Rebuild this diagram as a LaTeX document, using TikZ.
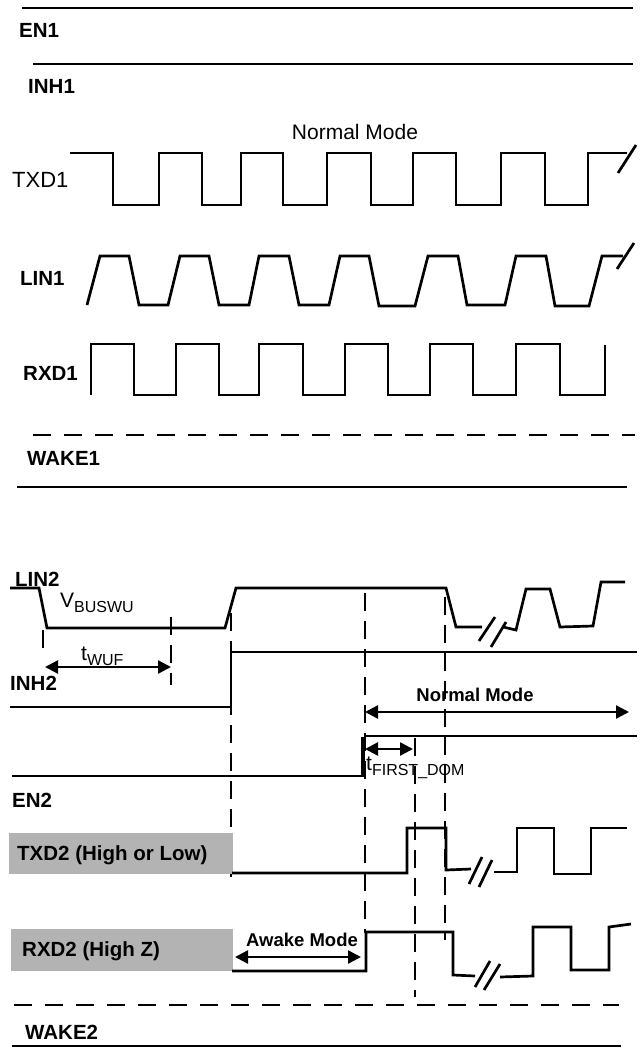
\documentclass[tikz,border=0pt]{standalone}
\usepackage{fontspec}
\setmainfont{Liberation Sans}
\usetikzlibrary{arrows.meta}
\definecolor{boxgray}{RGB}{179,179,179}
\newcommand{\subsig}[2]{#1\raisebox{-5pt}{\fontsize{16}{18}\selectfont #2}}
\tikzset{
  sig/.style={line width=2.7pt},
  vmark/.style={line width=2pt, dash pattern=on 18pt off 10pt},
  hdash/.style={line width=2.7pt, dash pattern=on 18pt off 13pt},
  dim/.style={line width=2.4pt, {Triangle[length=13pt,width=13pt]}-{Triangle[length=13pt,width=13pt]}},
  lbl/.style={anchor=west, inner sep=0pt, font=\fontsize{20.5}{24}\selectfont\bfseries},
  txt/.style={inner sep=0pt, font=\fontsize{21}{25}\selectfont},
}
\begin{document}
\begin{tikzpicture}[x=1pt,y=-1pt]
\useasboundingbox (0,0) rectangle (642,1049);

% first transceiver
\draw[sig] (22,8) -- (633,8);
\node[lbl] (en1) at (19,30) {EN1};
\draw[sig] (33,64) -- (633,64);
\node[lbl] (inh1) at (28,86) {INH1};
\node[txt] (nm1) at (355,132) {Normal Mode};
\node[txt, anchor=west, font=\fontsize{22}{26}\selectfont] (txd1) at (12,180) {TXD1};
\draw[sig] (70,153) -| (113,205) -| (159,153) -| (202,205) -| (241,153) -| (283,205) -| (327,153)
  -| (371,205) -| (413,153) -| (456,205) -| (501,153) -| (545,205) -| (588,153) -- (627,153);
\draw[sig] (618,173) -- (636,145);
\node[lbl] (lin1) at (20,278) {LIN1};
\draw[sig] (87,305) -- (100,256) -- (129,256) -- (139,305) -- (168,305) -- (180,256) -- (209,256)
  -- (219,305) -- (249,305) -- (259,256) -- (289,256) -- (299,305) -- (329,305) -- (340,256)
  -- (369,256) -- (379,306) -- (415,306) -- (428,256) -- (458,256) -- (467,305) -- (505,305)
  -- (516,256) -- (546,256) -- (555,306) -- (589,306) -- (602,256) -- (623,256);
\draw[sig] (617,269) -- (634,243);
\node[lbl] (rxd1) at (23,373) {RXD1};
\draw[sig] (91,395) |- (134,344) |- (176,395) |- (219,344) |- (259,395) |- (303,344) |- (345,395)
  |- (388,344) |- (430,395) |- (473,344) |- (516,395) |- (560,344) |- (605,395) -- (605,345);
\draw[hdash] (33,435) -- (635,435);
\node[lbl] (wake1) at (27,458) {WAKE1};
\draw[sig] (17,487) -- (627,487);

% second transceiver, wake up
\foreach \x/\a/\b in {43/630/648, 171/617/685, 231/613/877, 365/593/933, 445/597/940, 415/738/997}
  \draw[vmark] (\x,\a) -- (\x,\b);
\node[lbl] (lin2) at (15,579) {LIN2};
\draw[sig] (10,588) -- (39,588) -- (47,628) -- (225,628) -- (236,588) -- (446,588) -- (456,627) -- (482,627);
\draw[sig] (479,641) -- (495,617);
\draw[sig] (491,647) -- (506,622);
\draw[sig] (503,627) -- (516,630) -- (526,589) -- (550,589) -- (560,627) -- (593,626) -- (601,582) -- (625,582);
\node[txt, anchor=base west] (vbus) at (60,607) {\subsig{V}{BUSWU}};
\node[txt, anchor=base west] (twuf) at (81,660) {\subsig{t}{WUF}};
\coordinate (wuf-a) at (45,667);
\coordinate (wuf-b) at (171,667);
\draw[dim] (wuf-a) -- (wuf-b);
\node[lbl] (inh2) at (10,683) {INH2};
\draw[sig] (10,707) -| (231,652) -- (637,652);
\node[lbl, anchor=center, font=\fontsize{18.5}{22}\selectfont\bfseries] (nm2) at (475,695) {Normal Mode};
\coordinate (nm-a) at (365,712);
\coordinate (nm-b) at (629,712);
\draw[dim] (nm-a) -- (nm-b);
\draw[sig] (12,776) -- (364,776);
\draw[line width=3.5pt] (363,737) -- (363,777);
\draw[sig] (364,736) -- (637,736);
\coordinate (fd-a) at (365,749);
\coordinate (fd-b) at (413,749);
\draw[dim] (fd-a) -- (fd-b);
\node[txt, anchor=base west] (tfd) at (366,770) {\subsig{t}{FIRST\_DOM}};
\node[lbl] (en2) at (12,800) {EN2};

\fill[boxgray] (9,833) rectangle (233,874);
\node[lbl] (txd2) at (17,855) {TXD2 (High or Low)};
\draw[sig] (232,873) -| (407,828) -| (446,870) -- (471,869);
\draw[sig] (469,884) -- (482,857);
\draw[sig] (479,887) -- (492,860);
\draw[sig] (494,872) -| (517,828) -| (554,874) -| (591,828) -- (627,828);

\fill[boxgray] (11,929) rectangle (233,971);
\node[lbl] (rxd2) at (22,951) {RXD2 (High Z)};
\node[lbl, anchor=center, font=\fontsize{18.5}{22}\selectfont\bfseries] (awake) at (302,940) {Awake Mode};
\coordinate (aw-a) at (235,957);
\coordinate (aw-b) at (361,957);
\draw[dim] (aw-a) -- (aw-b);
\draw[sig] (232,971) -| (366,932) -| (453,975) -- (475,976);
\draw[sig] (475,987) -- (490,961);
\draw[sig] (484,990) -- (500,964);
\draw[sig] (500,977) -- (533,976) -- (533,927) -| (571,970) -| (609,927) -- (631,924);

\draw[hdash] (14,1005) -- (619,1005);
\node[lbl] (wake2) at (25,1032) {WAKE2};
\draw[sig] (12,1046) -- (621,1046);
\end{tikzpicture}
\end{document}
